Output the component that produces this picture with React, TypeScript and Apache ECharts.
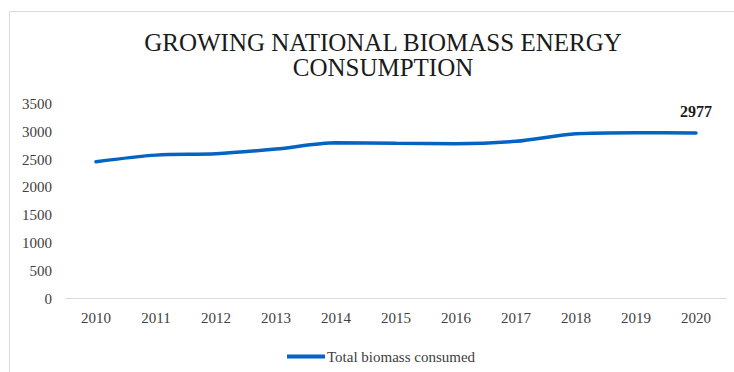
import React, { useEffect, useRef } from "react";
import * as echarts from "echarts";

const years = ["2010", "2011", "2012", "2013", "2014", "2015", "2016", "2017", "2018", "2019", "2020"];
const biomass = [2462, 2580, 2605, 2690, 2802, 2793, 2786, 2828, 2964, 2984, 2977];
const seriesName = "Total biomass consumed";
const titleText = "GROWING NATIONAL BIOMASS ENERGY\nCONSUMPTION";

const FONT = "'Liberation Serif', 'Times New Roman', serif";

export default function App() {
  const ref = useRef<HTMLDivElement>(null);
  useEffect(() => {
    document.body.style.margin = "0";
    const chart = echarts.init(ref.current!, null, { renderer: "svg" });
    const last = biomass.length - 1;
    chart.setOption({
      animation: false,
      backgroundColor: "#ffffff",
      graphic: [
        {
          type: "rect",
          shape: { x: 9.5, y: 11.5, width: 740, height: 380 },
          style: { fill: "none", stroke: "#d9d9d9", lineWidth: 1 },
          z: 0,
        },
      ],
      title: {
        text: titleText,
        left: 378,
        textAlign: "center",
        top: 25,
        textStyle: {
          fontFamily: FONT,
          fontSize: 25,
          fontWeight: "normal",
          color: "#1a1a1a",
          lineHeight: 25,
        },
      },
      legend: {
        left: 282,
        top: 344,
        icon: "rect",
        itemWidth: 38,
        itemHeight: 4,
        itemGap: 10,
        textStyle: { fontFamily: FONT, fontSize: 15, color: "#404040", padding: [0, 0, 0, -3] },
        data: [seriesName],
      },
      grid: { left: 66, right: 8, top: 104, bottom: 73.5 },
      xAxis: {
        type: "category",
        data: years,
        boundaryGap: true,
        axisLine: { lineStyle: { color: "#d9d9d9", width: 1 } },
        axisTick: { show: false },
        axisLabel: { fontFamily: FONT, fontSize: 15, color: "#404040", margin: 12 },
      },
      yAxis: {
        type: "value",
        min: 0,
        max: 3500,
        interval: 500,
        axisLine: { show: false },
        axisTick: { show: false },
        splitLine: { show: false },
        axisLabel: {
          fontFamily: FONT,
          fontSize: 15,
          color: "#404040",
          margin: 14,
          formatter: (v: number) => String(v),
        },
      },
      series: [
        {
          name: seriesName,
          type: "line",
          data: biomass.map((v, i) =>
            i === last
              ? {
                  value: v,
                  label: {
                    show: true,
                    position: "top",
                    distance: 14,
                    fontFamily: FONT,
                    fontSize: 16,
                    fontWeight: "bold",
                    color: "#1a1a1a",
                  },
                }
              : v
          ),
          smooth: 0.3,
          symbol: "circle",
          symbolSize: 0,
          showSymbol: true,
          lineStyle: { color: "#0563C1", width: 3.5, cap: "round" },
          itemStyle: { color: "#0563C1" },
        },
      ],
    });
    return () => chart.dispose();
  }, []);
  return <div ref={ref} style={{ width: 734, height: 372 }} />;
}
